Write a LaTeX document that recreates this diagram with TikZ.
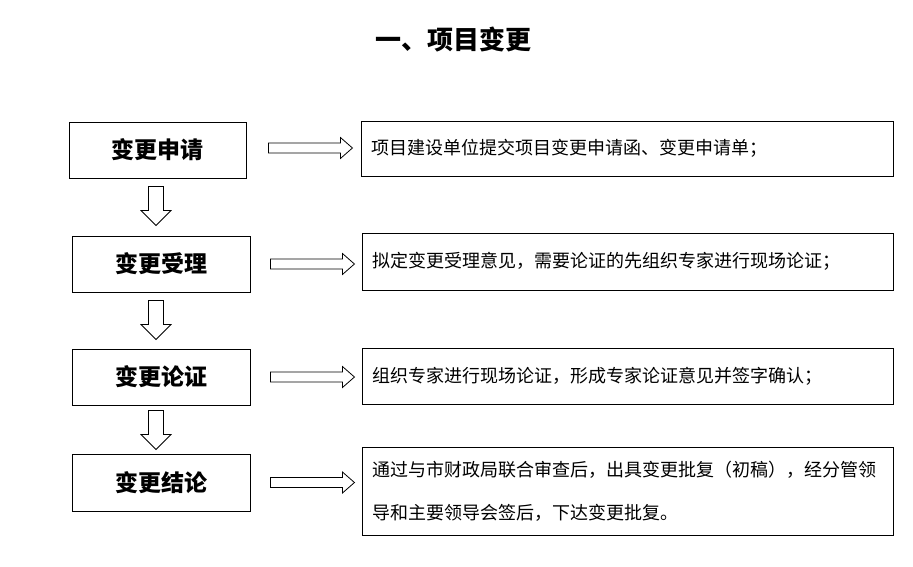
\documentclass[tikz,border=0pt]{standalone}
\usepackage{fontspec}
\setmainfont{Noto Sans CJK SC}
\usetikzlibrary{calc}
\begin{document}
\begin{tikzpicture}[x=1pt,y=-1pt,
  stepbox/.style={draw, line width=0.9pt, minimum width=178pt, minimum height=56pt, inner sep=0pt, font=\fontsize{23}{26}\selectfont\bfseries},
  descbox/.style={draw, line width=0.9pt, minimum width=531pt, minimum height=56pt, inner xsep=10pt, inner ysep=0pt, text width=511pt, align=left, font=\fontsize{18}{43}\selectfont},
  rarr/.pic={\draw[line width=0.8pt] (0,-5) -- (72,-5) -- (72,-10.5) -- (84,0) -- (72,10.5) -- (72,5) -- (0,5) -- cycle;},
  darr/.pic={\draw[line width=0.8pt] (-7.5,0) -- (7.5,0) -- (7.5,24) -- (15,24) -- (0,39) -- (-15,24) -- (-7.5,24) -- cycle;}
]
\useasboundingbox (0,0) rectangle (913,566);
\node[font=\fontsize{26}{30}\selectfont\bfseries] (title) at (453,40) {一、项目变更};

\node[stepbox, minimum width=177pt] (s1) at (157.5,150) {变更申请};
\node[stepbox] (s2) at (161,264) {变更受理};
\node[stepbox] (s3) at (161,377) {变更论证};
\node[stepbox, minimum height=57pt] (s4) at (161,482.5) {变更结论};

\node[descbox, minimum width=532pt, minimum height=55pt] (d1) at (627,148.5) {项目建设单位提交项目变更申请函、变更申请单；};
\node[descbox, minimum width=530pt, minimum height=57pt] (d2) at (628,261.5) {拟定变更受理意见，需要论证的先组织专家进行现场论证；};
\node[descbox, minimum width=530pt] (d3) at (628,376) {组织专家进行现场论证，形成专家论证意见并签字确认；};
\node[descbox, minimum width=530pt, minimum height=88pt] (d4) at (628,491.5) {通过与市财政局联合审查后，出具变更批复（初稿），经分管领\\导和主要领导会签后，下达变更批复。};

\pic at ($(s1.east)+(22,-2)$) {rarr};
\pic at ($(s2.east)+(20,0)$) {rarr};
\pic at ($(s3.east)+(20,0)$) {rarr};
\pic at ($(s4.east)+(20,0)$) {rarr};

\pic at ($(s1.south)+(-1.5,8)$) {darr};
\pic at ($(s2.south)+(-5,8)$) {darr};
\pic at ($(s3.south)+(-5,5)$) {darr};
\end{tikzpicture}
\end{document}
